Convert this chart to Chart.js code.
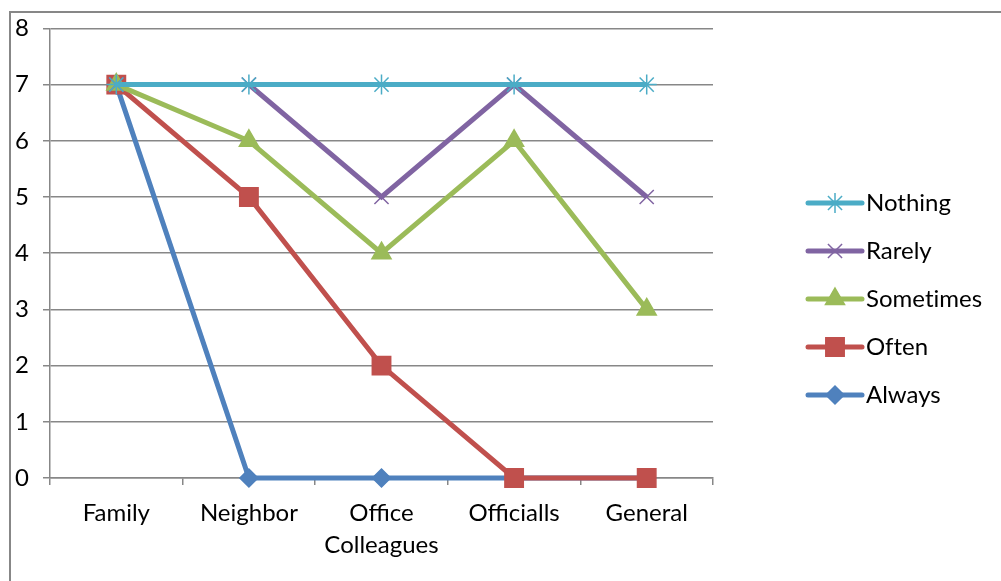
<!DOCTYPE html>
<html>
<head>
<meta charset="utf-8">
<script src="https://cdn.jsdelivr.net/npm/chart.js@4/dist/chart.umd.min.js"></script>
<style>
  html, body { margin: 0; padding: 0; background: #fff; overflow: hidden; }
  #wrap { position: relative; width: 1001px; height: 581px; }
  #frame { position: absolute; left: 9px; top: 11px; width: 1000px; height: 600px; border: 2px solid #878787; }
  canvas { position: absolute; left: 0; top: 0; }
</style>
</head>
<body>
<div id="wrap">
  <div id="frame"></div>
  <canvas id="c" width="1001" height="581"></canvas>
</div>
<script>
// Categories and series
const categories = ['Family', 'Neighbor', ['Office', 'Colleagues'], 'Officialls', 'General'];
const nothing   = [7, 7, 7, 7, 7];
const rarely    = [7, 7, 5, 7, 5];
const sometimes = [7, 6, 4, 6, 3];
const often     = [7, 5, 2, 0, 0];
const always    = [7, 0, 0, 0, 0];
const yTicks    = [0, 1, 2, 3, 4, 5, 6, 7, 8];

const FONT = 'Lato, "Liberation Sans", sans-serif';
const GRID = '#878787';

function series(label, data, color, style, radius) {
  return {
    label, data,
    clip: false,
    borderColor: color,
    backgroundColor: color,
    borderWidth: 5,
    tension: 0,
    pointStyle: style,
    pointRadius: radius,
    pointHoverRadius: radius,
    pointBorderWidth: 1.5,
    pointBorderColor: color,
    pointBackgroundColor: color
  };
}

// Legend on the right: short line with the series marker, then its name
const sideLegend = {
  id: 'sideLegend',
  afterDraw(chart) {
    const ctx = chart.ctx;
    const x0 = 808, x1 = 862, tx = 866, y0 = 203, step = 48;
    chart.data.datasets.forEach((ds, i) => {
      const y = y0 + i * step;
      ctx.save();
      ctx.strokeStyle = ds.borderColor;
      ctx.lineWidth = ds.borderWidth;
      ctx.lineCap = 'round';
      ctx.beginPath();
      ctx.moveTo(x0, y);
      ctx.lineTo(x1, y);
      ctx.stroke();
      ctx.fillStyle = ds.pointBackgroundColor;
      ctx.strokeStyle = ds.pointBorderColor;
      ctx.lineWidth = ds.pointBorderWidth;
      ctx.lineCap = 'butt';
      Chart.helpers.drawPoint(ctx, {
        pointStyle: ds.pointStyle, radius: ds.pointRadius, rotation: 0, borderWidth: ds.pointBorderWidth
      }, (x0 + x1) / 2, y);
      ctx.fillStyle = '#000';
      ctx.font = '24px ' + FONT;
      ctx.textRendering = 'optimizeSpeed';
      ctx.textAlign = 'left';
      ctx.textBaseline = 'middle';
      ctx.fillText(ds.label, tx, y);
      ctx.restore();
    });
  }
};

new Chart(document.getElementById('c'), {
  type: 'line',
  data: {
    labels: categories,
    datasets: [
      series('Nothing',   nothing,   '#4BACC6', 'star',     10),
      series('Rarely',    rarely,    '#8064A2', 'crossRot', 10),
      series('Sometimes', sometimes, '#9BBB59', 'triangle', 11),
      series('Often',     often,     '#C0504D', 'rect',     13),
      series('Always',    always,    '#4F81BD', 'rectRot',  9)
    ]
  },
  options: {
    responsive: false,
    animation: false,
    layout: { padding: { top: 25, right: 288, left: 0, bottom: 0 } },
    plugins: { legend: { display: false }, tooltip: { enabled: false } },
    scales: {
      x: {
        offset: true,
        grid: { offset: true, drawOnChartArea: false, drawTicks: true, tickLength: 7, color: GRID, lineWidth: 1.5 },
        border: { display: true, color: GRID, width: 1.5 },
        ticks: { color: '#000', font: { family: FONT, size: 24, lineHeight: 1.33 }, padding: 12, maxRotation: 0, autoSkip: false },
        afterFit(s) { s.height = 103; }
      },
      y: {
        min: 0, max: 8,
        afterBuildTicks(s) { s.ticks = yTicks.map(v => ({ value: v })); },
        grid: { color: GRID, lineWidth: 1.5, tickLength: 7 },
        border: { display: true, color: GRID, width: 1.5 },
        ticks: { color: '#000', font: { family: FONT, size: 24 }, padding: 14 },
        afterFit(s) { s.width = 50; }
      }
    }
  },
  plugins: [sideLegend]
});
</script>
</body>
</html>
